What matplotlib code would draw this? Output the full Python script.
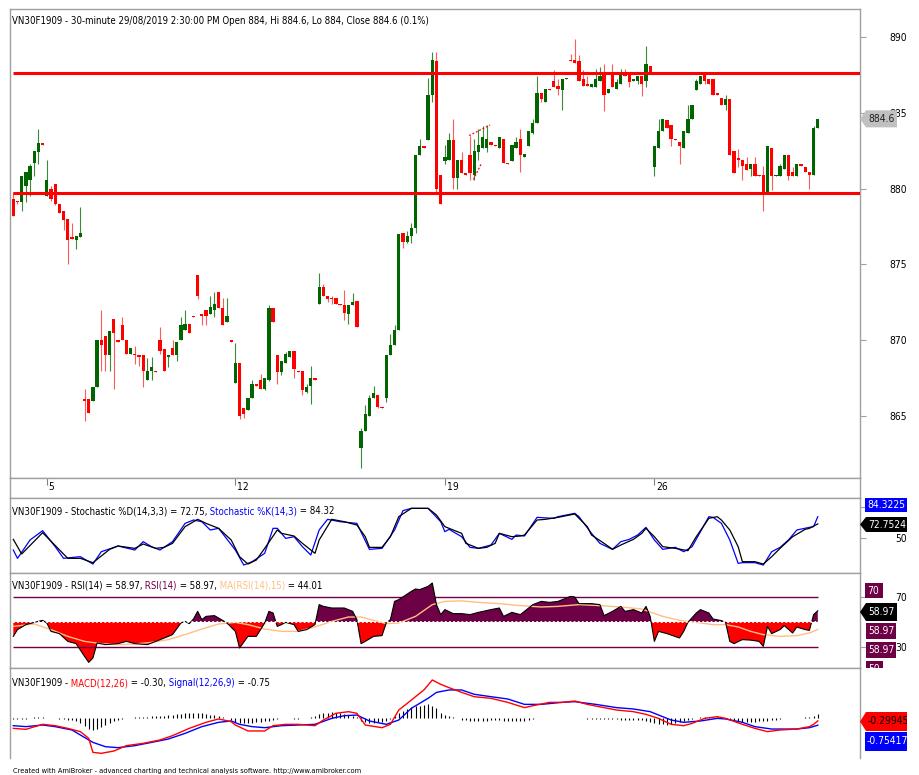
import matplotlib
matplotlib.use("Agg")
import numpy as np
from matplotlib import pyplot as plt
from matplotlib import font_manager
from matplotlib.patches import Polygon
from matplotlib.transforms import Bbox, TransformedBbox

W, H = 920, 775

# ---- VN30F1909 30-minute bars ----
opens = [879.3, 879.2, 879.1, 880.2, 880.6, 881.7, 882.4, 883.0, 879.5, 880.0,
         880.3, 879.0, 878.5, 878.0, 876.8, 876.6, 876.8, 866.1, 866.1, 866.0,
         866.9, 870.0, 870.3, 869.0, 871.4, 870.0, 871.0, 870.0, 869.1, 869.1,
         869.0, 869.0, 867.4, 868.0, 868.0, 870.0, 869.4, 868.9, 869.5, 869.0,
         870.0, 870.7, 871.1, 871.6, 874.3, 871.7, 872.0, 871.7, 872.0, 873.2,
         872.1, 871.2, 870.0, 867.2, 868.5, 865.5, 865.4, 866.2, 867.1, 867.4,
         866.8, 867.4, 872.1, 869.0, 867.9, 868.5, 868.9, 869.3, 868.0, 868.0,
         866.6, 867.0, 867.5, 872.4, 873.5, 872.9, 872.8, 872.8, 872.4, 872.3,
         871.7, 872.3, 872.6, 862.9, 864.0, 865.0, 866.2, 866.4, 865.6, 866.2,
         869.0, 869.7, 870.7, 877.1, 876.5, 876.9, 877.4, 882.2, 882.8, 883.2,
         886.2, 888.4, 880.9, 881.8, 881.9, 883.2, 880.7, 881.9, 881.0, 882.2,
         880.9, 882.4, 882.7, 882.7, 883.1, 882.9, 882.7, 883.3, 881.7, 881.8,
         882.7, 883.3, 882.1, 882.8, 883.7, 884.3, 886.3, 885.7, 886.6, 887.1,
         886.8, 886.5, 887.2, 888.5, 888.5, 888.4, 887.2, 886.9, 886.7, 886.7,
         887.1, 887.6, 886.3, 887.6, 886.6, 886.9, 887.7, 887.5, 887.1, 887.1,
         887.4, 887.1, 888.1, 881.4, 882.7, 883.8, 884.5, 884.2, 883.3, 883.1,
         882.7, 883.7, 884.6, 886.5, 886.9, 887.6, 887.2, 887.2, 886.3, 886.0,
         885.5, 885.9, 882.5, 882.0, 881.9, 881.6, 881.3, 881.6, 880.9, 880.9,
         879.7, 882.7, 880.8, 880.8, 881.3, 882.2, 881.1, 880.8, 881.6, 881.4,
         881.1, 880.9, 884.0]
highs = [879.8, 879.2, 880.8, 881.1, 881.6, 882.5, 883.9, 883.0, 881.9, 880.2,
         880.3, 879.0, 878.5, 878.0, 877.7, 876.9, 878.8, 866.8, 866.1, 866.9,
         870.0, 872.0, 870.3, 870.6, 871.4, 870.0, 871.5, 870.0, 869.5, 869.6,
         869.0, 869.0, 868.8, 868.9, 868.0, 870.9, 869.4, 869.0, 870.0, 869.9,
         871.5, 872.0, 871.1, 871.6, 874.3, 871.7, 872.0, 872.9, 873.2, 873.2,
         872.8, 872.8, 870.0, 869.8, 868.5, 865.5, 866.2, 867.4, 867.1, 867.8,
         867.5, 872.3, 872.1, 869.0, 868.6, 869.2, 869.3, 869.3, 868.0, 868.0,
         867.1, 868.3, 867.5, 874.4, 873.7, 872.9, 872.9, 872.8, 872.4, 873.3,
         872.3, 873.1, 872.6, 864.2, 865.7, 866.4, 867.0, 866.4, 865.6, 869.0,
         870.4, 871.0, 877.0, 877.1, 877.2, 877.7, 882.2, 883.3, 882.8, 887.3,
         889.0, 889.0, 880.9, 882.9, 883.7, 884.6, 881.9, 882.4, 881.0, 883.5,
         883.3, 883.9, 884.1, 884.2, 883.1, 882.9, 883.4, 883.3, 881.7, 882.9,
         883.4, 883.9, 882.3, 883.8, 884.6, 887.4, 886.3, 886.6, 886.6, 887.8,
         887.2, 887.2, 887.3, 888.9, 889.9, 888.8, 887.8, 887.4, 886.9, 887.9,
         888.0, 888.2, 886.6, 888.2, 887.2, 887.9, 887.9, 887.5, 887.2, 887.4,
         887.4, 889.4, 888.1, 882.8, 884.6, 884.6, 884.5, 884.2, 883.3, 883.1,
         883.8, 885.5, 885.5, 887.2, 887.4, 887.6, 887.2, 887.2, 886.3, 886.0,
         886.2, 885.9, 882.5, 882.6, 881.9, 882.1, 881.6, 882.1, 880.9, 881.5,
         882.8, 882.7, 880.9, 881.6, 882.2, 882.2, 881.4, 881.6, 881.6, 881.4,
         881.1, 884.1, 884.6]
lows = [878.2, 879.0, 878.5, 879.1, 879.5, 880.8, 881.6, 882.9, 879.5, 879.2,
        878.9, 878.4, 877.3, 875.0, 876.7, 876.0, 876.8, 864.7, 865.2, 866.0,
        866.9, 868.0, 868.0, 868.0, 866.8, 869.9, 870.0, 869.1, 869.1, 868.4,
        868.3, 866.9, 867.4, 867.4, 867.9, 869.1, 868.0, 868.2, 869.0, 868.6,
        870.0, 870.7, 870.5, 871.5, 872.7, 871.0, 871.0, 871.7, 871.5, 872.1,
        871.0, 871.2, 869.9, 867.2, 864.8, 864.9, 865.4, 866.2, 867.0, 866.8,
        866.7, 867.3, 871.2, 867.1, 867.7, 868.5, 868.9, 867.5, 867.9, 866.4,
        866.5, 865.8, 867.4, 872.4, 872.9, 872.5, 872.4, 872.4, 872.3, 871.3,
        871.1, 872.3, 870.9, 861.6, 864.0, 865.0, 866.2, 865.5, 865.5, 865.9,
        869.0, 869.7, 870.7, 876.1, 876.4, 876.4, 877.1, 882.2, 882.7, 883.2,
        885.7, 879.7, 879.0, 881.6, 881.9, 880.0, 880.0, 881.0, 880.9, 880.6,
        880.6, 881.9, 882.7, 882.4, 882.9, 882.8, 882.7, 881.7, 881.6, 881.8,
        882.7, 881.1, 882.1, 882.8, 883.6, 884.3, 885.7, 885.7, 886.5, 886.7,
        886.2, 885.2, 887.2, 888.4, 888.3, 887.1, 886.8, 886.8, 886.7, 886.7,
        887.1, 885.1, 886.3, 886.7, 886.6, 886.9, 887.4, 886.7, 887.1, 886.9,
        886.1, 886.7, 887.6, 880.8, 882.7, 883.8, 884.0, 882.8, 883.2, 881.6,
        882.7, 883.7, 884.6, 886.5, 886.9, 886.9, 886.9, 886.2, 886.2, 885.5,
        885.2, 882.2, 881.0, 881.4, 880.6, 881.2, 880.8, 880.8, 880.8, 878.5,
        879.7, 879.9, 880.8, 880.8, 881.3, 880.6, 880.8, 880.8, 881.5, 881.1,
        880.0, 880.9, 884.0]
closes = [878.2, 879.1, 880.8, 881.1, 881.5, 882.5, 883.0, 882.9, 880.6, 879.3,
          879.0, 878.4, 877.9, 876.6, 876.7, 876.9, 877.1, 866.0, 865.2, 866.9,
          870.0, 869.7, 869.0, 870.6, 870.5, 869.9, 870.0, 869.1, 869.5, 869.0,
          868.9, 868.0, 868.0, 868.2, 867.9, 869.3, 868.0, 869.0, 869.0, 869.9,
          871.0, 871.1, 870.5, 871.5, 872.9, 871.6, 871.6, 872.2, 872.4, 872.1,
          871.0, 871.6, 869.9, 868.5, 865.0, 865.1, 866.2, 867.1, 867.0, 866.8,
          867.5, 872.1, 871.2, 867.9, 868.6, 869.1, 869.3, 868.1, 867.9, 866.7,
          866.9, 867.5, 867.4, 873.5, 872.9, 872.7, 872.7, 872.4, 872.3, 871.8,
          872.3, 872.5, 870.9, 864.0, 865.1, 866.2, 866.5, 865.6, 865.5, 869.0,
          869.7, 870.7, 877.0, 876.5, 876.9, 877.4, 882.2, 882.8, 882.7, 886.2,
          888.5, 880.0, 879.0, 882.1, 883.2, 880.7, 881.9, 881.0, 880.9, 881.0,
          882.5, 882.9, 883.4, 883.3, 882.9, 882.8, 883.4, 881.7, 881.6, 882.9,
          883.1, 882.2, 882.3, 883.8, 884.3, 886.3, 885.9, 886.6, 886.5, 886.7,
          886.6, 887.2, 887.3, 888.4, 888.3, 887.1, 886.8, 886.8, 886.9, 887.2,
          887.4, 886.2, 886.6, 886.7, 887.0, 887.7, 887.4, 887.0, 887.2, 887.4,
          886.9, 888.2, 887.6, 882.8, 883.8, 884.6, 884.0, 883.3, 883.2, 882.8,
          883.8, 884.6, 885.5, 887.1, 887.4, 887.1, 886.9, 886.2, 886.2, 885.5,
          885.9, 882.2, 881.0, 881.9, 881.5, 881.2, 881.6, 880.8, 880.8, 879.7,
          882.8, 880.8, 880.9, 881.5, 882.2, 880.8, 880.8, 881.6, 881.5, 881.1,
          880.9, 884.0, 884.6]

day_idx = [8, 53, 103, 153]
day_lab = ["5", "12", "19", "26"]
price_ticks = [865, 870, 875, 880, 885, 890]
levels = [887.63, 879.74]
trend_x = [[108.8, 113.8], [109.8, 111.8]]
trend_y = [[883.5, 884.2], [880.6, 881.7]]

# ---- indicator traces (bar index, value) ----
stoch_d_idx = [0, 2, 7, 13, 16, 19, 23, 25, 29, 31, 34, 36, 38, 41, 44, 46, 49, 52, 54, 56,
               58, 60, 63, 64, 67, 69, 72, 73, 76, 79, 82, 84, 85, 88, 90, 92, 95, 99, 101, 103,
               107, 108, 111, 113, 115, 116, 119, 121, 122, 125, 127, 130, 134, 137, 138, 141,
               143, 145, 148, 150, 151, 153, 155, 158, 161, 163, 166, 168, 169, 171, 173, 174,
               177, 179, 181, 183, 186, 189, 190, 192]
stoch_d_val = [47.8, 24.2, 58.6, 17.2, 17.2, 10.2, 31.7, 37.1, 33.3, 40.3, 33.3, 34.9, 41.4,
               68.3, 80.1, 73.6, 65.6, 46.8, 19.9, 8.0, 14.5, 33.3, 62.9, 57.5, 53.2, 41.4,
               25.3, 46.8, 80.1, 76.3, 71.0, 52.1, 34.9, 34.9, 52.1, 84.4, 97.8, 97.8, 87.1,
               68.3, 57.5, 41.4, 33.3, 34.9, 41.4, 57.5, 52.1, 53.2, 54.8, 79.0, 80.1, 83.3,
               88.7, 68.3, 54.8, 41.4, 31.7, 38.7, 47.8, 57.5, 65.6, 52.1, 36.0, 33.3, 29.5,
               52.1, 81.7, 84.4, 79.0, 62.9, 36.0, 11.8, 11.8, 8.0, 19.9, 33.3, 52.1, 64.0,
               65.6, 72.75]
stoch_k_idx = [0, 1, 4, 7, 10, 12, 16, 19, 21, 25, 29, 31, 33, 35, 38, 41, 43, 45, 47, 49,
               53, 55, 57, 60, 62, 63, 65, 67, 69, 71, 73, 75, 78, 82, 85, 88, 91, 93, 95, 99,
               102, 103, 104, 107, 109, 111, 114, 116, 119, 120, 122, 125, 129, 130, 134, 135,
               138, 140, 143, 145, 147, 149, 151, 153, 155, 158, 160, 162, 166, 167, 169, 171,
               173, 174, 177, 179, 181, 183, 185, 187, 190, 191, 192]
stoch_k_val = [30.6, 17.2, 46.8, 61.8, 36.0, 17.2, 19.9, 8.0, 27.9, 37.1, 30.6, 44.1, 36.0,
               30.6, 44.1, 73.6, 79.0, 76.3, 62.9, 65.6, 30.6, 6.4, 11.8, 25.3, 65.6, 65.6,
               49.4, 52.1, 36.0, 22.6, 62.9, 80.1, 76.3, 73.6, 31.7, 33.3, 62.9, 94.1, 97.8,
               97.8, 76.3, 60.2, 64.0, 52.1, 34.9, 33.3, 38.7, 57.5, 47.8, 54.8, 53.2, 83.3,
               81.7, 84.4, 89.8, 84.4, 57.5, 41.4, 31.7, 44.1, 47.8, 54.8, 67.2, 46.8, 31.7,
               34.9, 27.9, 36.0, 84.4, 83.3, 73.6, 46.8, 9.1, 10.2, 10.2, 6.4, 27.9, 34.9,
               46.8, 62.9, 67.2, 68.3, 84.32]

rsi_idx = [0, 1, 3, 6, 7, 8, 9, 11, 13, 15, 17, 18, 19, 20, 22, 25, 27, 29, 32, 34,
           37, 38, 40, 41, 42, 43, 44, 45, 46, 48, 49, 51, 53, 54, 56, 58, 60, 61, 62, 63,
           64, 65, 67, 68, 70, 72, 73, 74, 76, 79, 81, 82, 83, 84, 86, 88, 89, 90, 91, 92,
           95, 96, 97, 99, 100, 101, 102, 103, 105,
           107, 109, 111, 114, 116, 117, 119, 121, 122, 124, 126, 128, 130, 133, 134, 135,
           138, 140, 141, 143, 145, 146, 148, 150, 151, 152, 153, 154, 156, 159, 160, 161,
           163, 164, 166, 167, 169, 170, 171, 172, 174, 176, 178, 179, 180, 181, 183, 184,
           186, 187, 189, 190, 191, 192]
rsi_val = [38.5, 43.9, 47.9, 50.5, 51.3, 49.2, 42.5, 40.7, 34.5, 32.7, 22.5, 17.7, 21.2,
           33.2, 31.9, 32.7, 34.5, 32.7, 31.9, 34.5, 38.5, 39.9, 49.2, 50.5, 48.7, 52.4,
           58.5, 51.9, 54.5, 55.1, 53.2, 49.2, 42.5, 29.2, 38.5, 38.5, 49.2, 58.5, 57.2,
           46.5, 47.9, 49.7, 47.9, 42.5, 43.9, 47.9, 63.9, 62.5, 61.2, 61.2, 58.5, 51.9,
           32.7, 34.5, 38.5, 39.1, 49.2, 51.9, 66.5, 67.9, 74.5, 76.4, 75.9, 78.5, 81.2,
           63.9, 55.9, 59.9, 56.7,
           56.7, 55.9, 57.7, 59.9, 61.2, 54.5, 57.7, 55.9, 58.5, 63.9, 66.5, 65.7, 66.5,
           70.5, 70.0, 64.7, 64.7, 63.9, 55.1, 58.5, 62.5, 58.5, 59.9, 57.2, 62.5, 54.5,
           34.5, 42.5, 40.7, 37.2, 42.5, 49.7, 57.2, 59.9, 57.2, 52.4, 51.1, 49.7, 34.5,
           32.7, 35.9, 35.5, 34.5, 30.5, 46.5, 40.7, 43.9, 47.1, 41.2, 46.0, 43.9, 43.3,
           55.9, 58.97]
rsi_ma_idx = [0, 5, 9, 13, 17, 21, 25, 29, 33, 37, 41, 45, 49, 53, 56, 60, 64, 68, 72, 76,
              80, 83, 86, 89, 92, 96, 100, 103, 107, 111, 116, 121, 126, 130, 135, 140, 145,
              150, 155, 159, 163, 167, 170, 173, 176, 179, 183, 187, 190, 192]
rsi_ma_val = [46.5, 48.4, 43.9, 38.5, 34.5, 32.7, 31.9, 32.4, 33.7, 35.9, 39.9, 44.4, 48.4,
              49.7, 47.9, 44.4, 42.5, 42.5, 46.0, 50.5, 54.0, 54.0, 51.3, 48.7, 49.2, 54.5,
              63.9, 66.5, 66.9, 65.7, 64.7, 63.1, 62.0, 62.5, 63.9, 63.1, 62.0, 60.4, 54.5,
              51.3, 49.7, 47.9, 47.9, 46.0, 42.5, 39.9, 38.5, 39.1, 41.2, 44.01]

macd_idx = [0, 3, 7, 10, 13, 16, 18, 19, 21, 24, 27, 31, 35, 38, 42, 46, 49, 52, 53, 56,
            60, 62, 65, 68, 72, 74, 77, 80, 82, 84, 88, 90, 92, 95, 98, 100, 102, 104,
            107, 110, 114, 118, 122, 124, 128, 131, 134, 137, 141, 144, 148, 151, 154, 157,
            160, 162, 165, 168, 170, 174, 177, 180, 183, 187, 190, 191, 192]
macd_val = [-1.08, -1.18, -0.66, -0.80, -1.08, -1.42, -2.12, -3.58, -3.68, -3.44, -2.88,
            -2.64, -2.29, -1.84, -1.08, -0.45, -0.10, -0.38, -0.73, -1.35, -1.35, -0.80,
            -0.66, -0.66, -0.80, -0.21, 0.49, 0.66, 0.49, -0.73, -1.01, -0.66, 0.83, 1.87,
            2.92, 3.96, 3.51, 3.16,
            2.67, 2.22, 2.05, 1.63, 1.08, 1.28, 1.63, 1.63, 1.77, 1.42, 1.08, 0.83, 0.66,
            0.38, -0.04, -0.66, -0.80, -0.56, -0.04, 0.14, -0.04, -0.66, -1.08, -1.42,
            -1.25, -1.15, -0.90, -0.66, -0.30]
signal_idx = [0, 3, 7, 10, 14, 16, 19, 22, 25, 29, 33, 37, 41, 45, 49, 52, 54, 57, 60, 64,
              68, 72, 76, 79, 82, 85, 89, 92, 95, 99, 101, 104,
              107, 110, 114, 118, 122, 126, 131, 134, 139, 144, 148, 152, 154, 157, 160,
              164, 168, 170, 174, 177, 181, 187, 190, 192]
signal_val = [-0.80, -0.90, -0.73, -0.90, -1.25, -1.77, -2.54, -2.99, -3.09, -2.88, -2.54,
              -2.19, -1.60, -0.90, -0.45, -0.31, -0.66, -0.90, -1.01, -0.80, -0.73, -0.66,
              -0.04, 0.24, 0.31, -0.31, -0.66, -0.21, 1.01, 2.05, 2.67, 2.92,
              2.92, 2.47, 2.22, 1.98, 1.42, 1.42, 1.63, 1.70, 1.42, 1.08, 0.94, 0.66, 0.31,
              -0.21, -0.45, -0.31, -0.04, -0.10, -0.45, -0.90, -1.15, -1.15, -1.01, -0.75]
macd_hist = [-0.1, -0.1, -0.1, -0.1, 0.05, 0.1, 0.1, 0.1, 0.05, 0.02,
             -0.05, -0.1, -0.15, -0.2, -0.2, -0.3, -0.5, -0.8, -1.1, -1.2,
             -1.1, -0.9, -0.7, -0.5, -0.3, -0.2, -0.1, 0.02, 0.05, 0.1,
             0.1, 0.15, 0.15, 0.2, 0.2, 0.2, 0.25, 0.3, 0.35, 0.4,
             0.45, 0.5, 0.5, 0.55, 0.55, 0.5, 0.45, 0.35, 0.3, 0.2,
             0.1, -0.05, -0.2, -0.4, -0.5, -0.55, -0.5, -0.5, -0.45, -0.4,
             -0.35, -0.3, -0.2, -0.1, -0.05, 0.02, -0.05, -0.1, -0.1, 0.02,
             0.05, 0.1, 0.2, 0.4, 0.5, 0.55, 0.6, 0.55, 0.5, 0.45,
             0.35, 0.2, 0.1, -0.3, -0.45, -0.5, -0.5, -0.45, -0.4, -0.3,
             -0.1, 0.2, 0.5, 0.7, 0.9, 1.1, 1.2, 1.3, 1.4, 1.5,
             1.3, 1.0, 0.5, 0.35, 0.25, 0.15, 0.02, -0.2, -0.25, -0.3,
             -0.3, -0.3, -0.3, -0.3, -0.25, -0.25, -0.25, -0.3, -0.3, -0.3,
             -0.3, -0.3, -0.3, -0.2, -0.1, -0.05, 0.05, 0.05, 0.05, 0.05,
             0.05, 0.05, 0.05, 0.05, 0.05, 0.02, -0.05, -0.1, -0.1, -0.1,
             -0.15, -0.15, -0.15, -0.15, -0.15, -0.2, -0.2, -0.2, -0.2, -0.2,
             -0.25, -0.3, -0.4, -0.5, -0.6, -0.65, -0.7, -0.6, -0.5, -0.4,
             -0.3, -0.2, -0.1, 0.05, 0.1, 0.1, 0.15, 0.15, 0.1, 0.05,
             -0.1, -0.2, -0.3, -0.35, -0.4, -0.4, -0.4, -0.4, -0.35, -0.35,
             -0.3, -0.25, -0.2, -0.1, -0.05, 0.02, 0.05, 0.05, 0.05, 0.1,
             0.1, 0.2, 0.45]

GREEN, GREEN_W = "#006400", "#3A8A3A"
RED, RED_W = "#FF0000", "#FF5A5A"
PURPLE = "#6E0046"
ORANGE = "#FFBF80"
BLUE = "#0000FF"
FRAME = "#A0A0A0"

TITLE = ("VN30F1909 - 30-minute 29/08/2019 2:30:00 PM Open 884, Hi 884.6, "
         "Lo 884, Close 884.6 (0.1%)")
FOOTER = ("Created with AmiBroker - advanced charting and technical analysis software. "
          "http://www.amibroker.com")

# pick the narrowest face on hand
fonts = font_manager.fontManager.ttflist
names = {f.name for f in fonts}
STRETCH = "normal"
if "Liberation Sans Narrow" in names:
    FAMILY = "Liberation Sans Narrow"
elif any(f.name == "DejaVu Sans" and f.stretch == "condensed" for f in fonts):
    FAMILY, STRETCH = "DejaVu Sans", "condensed"
else:
    FAMILY = "Liberation Sans"
plt.rcParams["font.family"] = [FAMILY, "DejaVu Sans"]
plt.rcParams["font.stretch"] = STRETCH

fig = plt.figure(figsize=(W / 100, H / 100), dpi=100, facecolor="white")


def text_width(s, size):
    t = fig.text(0, 0, s, fontsize=size)
    w = t.get_window_extent(fig.canvas.get_renderer()).width
    t.remove()
    return w


# the screenshot's text is narrow: size the font so the header spans 421 px
FS = 10 * 421 / text_width(TITLE, 10)
FS_FOOT = 10 * 347 / text_width(FOOTER, 10)

# bar 0 sits at x=13.3 px, bars 4.19 px apart, frame from x=10 to x=860
XMIN, XMAX = (10 - 13.3) / 4.19, (860 - 13.3) / 4.19


def panel(top, bottom):
    ax = fig.add_axes([10 / W, 1 - bottom / H, 850 / W, (bottom - top) / H])
    ax.set_xlim(XMIN, XMAX)
    ax.set_xticks([])
    ax.set_yticks([])
    for s in ax.spines.values():
        s.set_color(FRAME)
        s.set_linewidth(1.0)
    return ax


def right_ticks(ax, ticks, labels):
    ax.set_yticks(ticks)
    ax.set_yticklabels(labels)
    ax.tick_params(axis="y", left=False, labelleft=False, right=True, labelright=True,
                   direction="out", length=4, color=FRAME, pad=29.5, labelsize=FS + 0.4)
    for t in ax.yaxis.get_major_ticks():
        t.label2.set_horizontalalignment("right")


def rainbow(ax, x_px, y_px, parts, size):
    t = fig.text(x_px / W, 1 - (y_px + 6) / H, parts[0][0], color=parts[0][1],
                 fontsize=size, va="bottom", ha="left")
    for s, c in parts[1:]:
        t = ax.annotate(s, xy=(1, 0), xycoords=t, color=c, fontsize=size,
                        va="bottom", ha="left", annotation_clip=False)


def tag(x0, x1, y0, y1, face, txt, tcol, arrow=False, cut=None):
    tip = 6 if arrow else 0
    pts = [(x0 + tip, y0), (x1, y0), (x1, y1), (x0 + tip, y1)]
    if arrow:
        pts.insert(0, (x0, (y0 + y1) / 2))
    box = TransformedBbox(Bbox.from_extents(0, 1 - (cut if cut else H) / H, 907 / W, 1),
                          fig.transFigure)
    poly = Polygon([(px / W, 1 - py / H) for px, py in pts], closed=True,
                   transform=fig.transFigure, facecolor=face, edgecolor="none", zorder=5)
    poly.set_clip_box(box)
    fig.add_artist(poly)
    t = fig.text((x0 + tip + 2) / W, 1 - (y0 + y1) / 2 / H, txt, color=tcol,
                 fontsize=FS + 0.4, va="center", ha="left", zorder=6)
    t.set_clip_box(box)
    t.set_clip_on(True)


n = len(closes)
x = np.arange(n)
o, hi, lo, c = (np.array(v) for v in (opens, highs, lows, closes))
up = c >= o

# ---- price pane ----
ax_p = panel(9, 478)
PMIN, PMAX = 865 - 62 / 15.16, 890 + 28 / 15.16
ax_p.set_ylim(PMIN, PMAX)
ax_p.vlines(x, lo, hi, colors=np.where(up, GREEN_W, RED_W), lw=0.8, zorder=2)
ax_p.bar(x, np.maximum(np.abs(c - o), 0.09), bottom=np.minimum(o, c), width=0.78,
         color=np.where(up, GREEN, RED), lw=0, zorder=3)
ax_p.hlines(levels, 0, XMAX, colors=RED, lw=2.2, zorder=4)
for tx, ty in zip(trend_x, trend_y):
    ax_p.plot(tx, ty, color=RED, lw=0.9, ls=(0, (1.5, 1.5)), zorder=4)
right_ticks(ax_p, price_ticks, [str(v) for v in price_ticks])
rainbow(ax_p, 12, 20.5, [(TITLE, "black")], FS)
pos = ax_p.get_position()
yc = (1 - (pos.y0 + (closes[-1] - PMIN) / (PMAX - PMIN) * pos.height)) * H
tag(860, 897, yc - 8.5, yc + 8.5, "#C0C0C0", "884.6", "#202020", arrow=True)

# ---- date strip ----
ax_d = panel(478, 498)
ax_d.set_xticks(day_idx)
ax_d.tick_params(axis="x", bottom=False, labelbottom=False, top=True, direction="in",
                 length=5, color="#808080")
for i, lab in zip(day_idx, day_lab):
    ax_d.annotate(lab, xy=(i, 1), xycoords=("data", "axes fraction"), xytext=(1.2, -3),
                  textcoords="offset points", va="top", ha="left", fontsize=FS + 0.4)

# ---- stochastic pane ----
ax_s = panel(498, 573)
ax_s.set_ylim(50 - 35 / 0.62, 50 + 40 / 0.62)
ax_s.plot(stoch_k_idx, stoch_k_val, color=BLUE, lw=0.9, zorder=3)
ax_s.plot(stoch_d_idx, stoch_d_val, color="black", lw=0.9, zorder=4)
right_ticks(ax_s, [50, 100], ["50", ""])
rainbow(ax_s, 12, 510.5, [("VN30F1909 - Stochastic %D(14,3,3) = 72.75,", "black"),
                          (" Stochastic %K(14,3)", BLUE), (" = 84.32", "black")], FS)
tag(865, 907, 498, 512, BLUE, "84.3225", "white")
tag(860, 907, 517, 532, "black", "72.7524", "white", arrow=True)

# ---- RSI pane ----
ax_r = panel(573, 668)
ax_r.set_ylim(30 - 21 / 1.25, 70 + 24 / 1.25)
ri, rv = np.array(rsi_idx), np.array(rsi_val)
ax_r.fill_between(ri, rv, 50, where=rv >= 50, interpolate=True, facecolor=PURPLE, lw=0)
ax_r.fill_between(ri, rv, 50, where=rv <= 50, interpolate=True, facecolor=RED, lw=0)
ax_r.hlines([30, 70], 0, n - 1, colors=PURPLE, lw=1.0, zorder=2)
ax_r.plot(rsi_ma_idx, rsi_ma_val, color=ORANGE, lw=1.0, zorder=3)
ax_r.plot(ri, rv, color="black", lw=0.8, zorder=4)
ax_r.hlines(50, 0, n - 1, colors="white", lw=1.3, linestyles=(0, (1, 1.3)), zorder=5)
right_ticks(ax_r, [30, 70], ["30", "70"])
rainbow(ax_r, 12, 585, [("VN30F1909 - RSI(14) = 58.97,", "black"), (" RSI(14)", PURPLE),
                        (" = 58.97,", "black"), (" MA(RSI(14),15)", ORANGE),
                        (" = 44.01", "black")], FS)
tag(865, 883, 583, 598, PURPLE, "70", "white")
tag(860, 897, 603, 621, "black", "58.97", "white", arrow=True)
tag(866, 896, 623, 639, PURPLE, "58.97", "white")
tag(866, 896, 642, 658, PURPLE, "58.97", "white")
tag(866, 883, 661, 676, PURPLE, "50", "white", cut=668)

# ---- MACD pane ----
ax_m = panel(668, 758)
ax_m.spines["bottom"].set_visible(False)
ax_m.set_ylim(-40 / 9.6, 50 / 9.6)
ax_m.vlines(x, 0, macd_hist, colors="black", lw=0.8, zorder=2)
ax_m.plot(signal_idx, signal_val, color=BLUE, lw=1.0, zorder=3)
ax_m.plot(macd_idx, macd_val, color=RED, lw=1.0, zorder=4)
rainbow(ax_m, 12, 682, [("VN30F1909 -", "black"), (" MACD(12,26)", RED),
                        (" = -0.30,", "black"), (" Signal(12,26,9)", BLUE),
                        (" = -0.75", "black")], FS)
tag(860, 907, 712, 731, RED, "-0.299451", "black", arrow=True)
tag(865, 907, 732, 751, BLUE, "-0.754174", "white")

fig.text(13 / W, 1 - 771 / H, FOOTER, fontsize=FS_FOOT, va="center")

fig.savefig("out.png", dpi=100, facecolor="white")
